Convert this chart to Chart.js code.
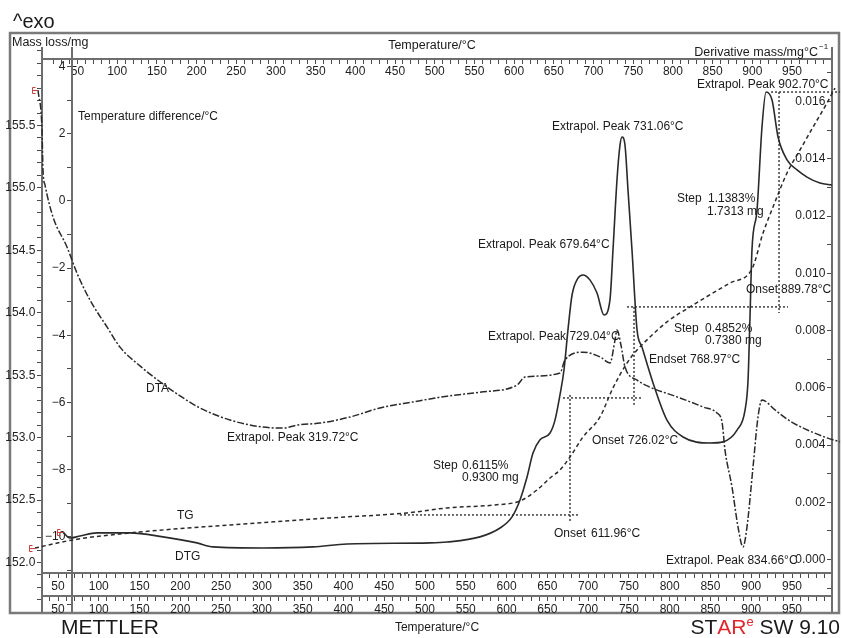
<!DOCTYPE html>
<html>
<head>
<meta charset="utf-8">
<title>TG / DTA / DTG</title>
<script src="https://cdn.jsdelivr.net/npm/chart.js@4.4.1/dist/chart.umd.min.js"></script>
<style>
  html, body { margin: 0; padding: 0; background: #ffffff; }
  canvas { display: block; }
</style>
</head>
<body>
<canvas id="thermo" width="842" height="638"></canvas>
<script>
// ---- measured curves, temperature in °C ----
const tgTemp = [21.8, 68.4, 138.3, 260.9, 383.5, 477.9, 527.0, 585.8, 616.5, 637.3, 653.3, 665.5, 677.8, 693.7, 714.6, 730.5, 747.7, 760.0, 775.9, 796.7, 824.9, 874.0, 900.9, 914.5, 926.7, 943.9, 959.8, 975.8, 992.9, 1002.7];
const tgMass = [152.116, 152.181, 152.237, 152.301, 152.357, 152.397, 152.437, 152.461, 152.493, 152.581, 152.677, 152.741, 152.845, 153.005, 153.166, 153.398, 153.598, 153.702, 153.806, 153.927, 154.047, 154.239, 154.351, 154.639, 154.847, 155.120, 155.304, 155.488, 155.680, 155.800];

const dtaTemp = [25.5, 30.4, 31.6, 34.1, 43.9, 61.0, 73.3, 89.2, 110.1, 126.0, 150.5, 175.1, 199.6, 224.1, 260.9, 301.4, 325.9, 343.1, 371.3, 408.0, 444.8, 485.3, 527.0, 567.4, 612.8, 622.6, 665.5, 671.7, 693.7, 714.6, 726.8, 733.0, 735.4, 740.3, 745.2, 760.0, 775.9, 809.0, 840.9, 858.0, 864.2, 867.8, 876.4, 883.8, 889.9, 894.8, 902.2, 908.3, 913.2, 929.2, 947.6, 972.1, 992.9, 1008.9];
const dtaDelta = [3.30, 2.11, 0.92, 0.47, -0.48, -1.37, -2.15, -2.95, -3.75, -4.35, -4.91, -5.38, -5.80, -6.16, -6.52, -6.73, -6.76, -6.67, -6.61, -6.43, -6.16, -5.98, -5.81, -5.69, -5.48, -5.24, -5.12, -4.73, -4.50, -4.64, -4.82, -4.14, -3.84, -4.29, -4.94, -5.33, -5.54, -5.83, -6.13, -6.31, -6.58, -7.41, -8.51, -9.70, -10.30, -9.70, -7.92, -6.43, -5.92, -6.22, -6.55, -6.85, -7.05, -7.17];

const dtgTemp = [56.1, 64.7, 77.0, 97.8, 138.3, 178.7, 220.4, 240.1, 301.4, 362.7, 404.4, 506.1, 527.0, 567.4, 592.0, 606.7, 616.5, 625.1, 632.4, 641.0, 653.3, 659.4, 665.5, 670.4, 675.3, 680.3, 687.6, 693.7, 702.4, 710.9, 719.5, 726.8, 730.5, 735.4, 739.1, 741.6, 745.2, 748.9, 753.8, 760.0, 766.1, 779.6, 796.7, 816.4, 849.5, 865.4, 882.6, 892.4, 896.1, 898.5, 900.9, 907.1, 913.2, 918.2, 925.5, 932.9, 943.9, 956.2, 968.4, 984.3, 999.0];
const dtgRate = [0.00096, 0.00075, 0.00082, 0.00093, 0.00093, 0.00079, 0.00058, 0.00044, 0.00040, 0.00044, 0.00054, 0.00058, 0.00061, 0.00079, 0.00110, 0.00149, 0.00208, 0.00288, 0.00372, 0.00418, 0.00442, 0.00487, 0.00575, 0.00662, 0.00802, 0.00924, 0.00983, 0.00994, 0.00976, 0.00931, 0.00854, 0.00907, 0.01081, 0.01326, 0.01448, 0.01476, 0.01448, 0.01291, 0.01081, 0.00802, 0.00742, 0.00617, 0.00487, 0.00428, 0.00407, 0.00411, 0.00452, 0.00522, 0.00627, 0.00847, 0.01081, 0.01221, 0.01511, 0.01633, 0.01605, 0.01476, 0.01396, 0.01361, 0.01336, 0.01315, 0.01308];

// evaluation construction lines: start/end temperature and mass
const guideTemp = [[469.3, 687.6], [677.8, 677.8], [669.2, 766.1], [756.3, 756.3], [747.7, 945.1], [934.1, 934.1], [924.3, 1008.9]];
const guideMass = [[152.381, 152.381], [153.342, 152.325], [153.318, 153.318], [154.047, 153.246], [154.047, 154.047], [155.768, 153.998], [155.768, 155.768]];

// labelled tick values
const tempLabels = [50, 100, 150, 200, 250, 300, 350, 400, 450, 500, 550, 600, 650, 700, 750, 800, 850, 900, 950];
const massLabels = [152.0, 152.5, 153.0, 153.5, 154.0, 154.5, 155.0, 155.5];
const deltaLabels = [4, 2, 0, -2, -4, -6, -8, -10];
const rateLabels = [0, 0.002, 0.004, 0.006, 0.008, 0.010, 0.012, 0.014, 0.016];

// evaluation results written on the plot: text, temperature, mass
const notes = [
  ['Extrapol. Peak 902.70°C', 833.5, 155.824],
  ['Extrapol. Peak 731.06°C', 655.7, 155.488],
  ['Extrapol. Peak 679.64°C', 565.0, 154.543],
  ['Extrapol. Peak 729.04°C', 577.3, 153.806],
  ['Step', 805.3, 153.870], ['0.4852%', 843.3, 153.870], ['0.7380 mg', 843.3, 153.774],
  ['Endset', 774.7, 153.622], ['768.97°C', 824.9, 153.622],
  ['Onset', 704.8, 152.973], ['726.02°C', 748.9, 152.973],
  ['Step', 509.8, 152.773], ['0.6115%', 545.4, 152.773], ['0.9300 mg', 545.4, 152.677],
  ['Onset', 658.2, 152.228], ['611.96°C', 703.5, 152.228],
  ['Extrapol. Peak 319.72°C', 257.2, 152.997],
  ['Extrapol. Peak 834.66°C', 795.5, 152.012],
  ['Step', 809.0, 154.911], ['1.1383%', 847.0, 154.911], ['1.7313 mg', 845.8, 154.807],
  ['Onset', 893.6, 154.183], ['889.78°C', 936.5, 154.183],
  ['TG', 195.9, 152.373], ['DTG', 193.5, 152.044], ['DTA', 157.9, 153.390],
  ['Temperature difference/°C', 74.5, 155.568]
];

const FONT = '"Liberation Sans", Arial, Helvetica, sans-serif';
Chart.defaults.font.family = FONT;
Chart.defaults.font.size = 12;
Chart.defaults.color = '#1e1e1e';

function steps(a, b, step) {
  const out = [];
  const n = Math.round((b - a) / step);
  for (let i = 0; i <= n; i++) out.push(+(a + i * step).toFixed(6));
  return out;
}
const has = (list, v) => list.some(t => Math.abs(t - v) < 1e-7);
const minus = v => (v < 0 ? '\u2212' + Math.abs(v) : String(v));

function axis(kind, tickValues, format, extra) {
  return Object.assign({
    type: 'linear',
    axis: kind,
    bounds: 'data',
    afterBuildTicks: s => { s.ticks = tickValues.map(v => ({ value: v })); },
    grid: { drawOnChartArea: false, drawTicks: true, tickLength: 4, tickColor: '#4a4a4a', tickWidth: 1 },
    border: { display: true, color: '#6e6e6e', width: 2 },
    ticks: { autoSkip: false, maxRotation: 0, minRotation: 0, padding: 2, color: '#1e1e1e', font: { size: 12 }, callback: format }
  }, extra);
}

const tempFmt = v => (has(tempLabels, v) ? String(v) : '');
const massFmt = v => (has(massLabels, v) ? v.toFixed(1) + '  ' : '');
const deltaFmt = v => (has(deltaLabels, v) ? minus(v) + '  ' : '');
const rateFmt = v => (has(rateLabels, v) ? v.toFixed(3) + '  ' : '');

const T_MIN = 30.38, T_MAX = 999.04;

const line = (xs, ys, yAxisID, dash, width) => ({
  data: xs.map((x, i) => ({ x, y: ys[i] })),
  xAxisID: 'x', yAxisID,
  showLine: true, pointRadius: 0, fill: false, clip: false,
  borderColor: '#2a2a2a', borderWidth: width, borderDash: dash,
  cubicInterpolationMode: 'monotone'
});

const datasets = [
  Object.assign(line(tgTemp, tgMass, 'yMass', [4, 3], 1.5), { label: 'TG' }),
  Object.assign(line(dtaTemp, dtaDelta, 'yDTA', [7, 2, 2, 2], 1.5), { label: 'DTA' }),
  Object.assign(line(dtgTemp, dtgRate, 'yRate', [], 1.6), { label: 'DTG' })
];
guideTemp.forEach((t, i) => {
  const g = line(t, guideMass[i], 'yMass', [2, 2], 1.5);
  g.borderColor = '#3c3c3c';
  g.cubicInterpolationMode = 'default';
  datasets.push(g);
});

const decor = {
  id: 'decor',
  beforeDraw(chart) {
    const ctx = chart.ctx;
    ctx.save();
    ctx.fillStyle = '#ffffff';
    ctx.fillRect(0, 0, chart.width, chart.height);
    ctx.strokeStyle = '#7a7a7a';
    ctx.lineWidth = 2.5;
    ctx.strokeRect(10, 33, 829, 580);
    ctx.restore();
  },
  afterDatasetsDraw(chart) {
    // small red start brackets at the first point of each curve
    const ctx = chart.ctx;
    ctx.save();
    ctx.strokeStyle = '#d2403c';
    ctx.lineWidth = 1;
    [0, 1, 2].forEach(i => {
      const p = chart.getDatasetMeta(i).data[0];
      if (!p) return;
      const x = Math.round(p.x) + 0.5, y = Math.round(p.y) + 0.5;
      ctx.beginPath();
      ctx.moveTo(x - 3, y - 3); ctx.lineTo(x - 6, y - 3); ctx.lineTo(x - 6, y + 3); ctx.lineTo(x - 3, y + 3);
      ctx.moveTo(x - 6, y); ctx.lineTo(x, y);
      ctx.stroke();
    });
    ctx.restore();
  },
  afterDraw(chart) {
    const ctx = chart.ctx;
    const sx = chart.scales.x, sm = chart.scales.yMass;
    ctx.save();
    ctx.fillStyle = '#1a1a1a';
    ctx.textBaseline = 'middle';
    ctx.textAlign = 'left';
    ctx.font = '12px ' + FONT;
    notes.forEach(([text, t, m]) => {
      ctx.fillText(text, sx.getPixelForValue(t), sm.getPixelForValue(m));
    });

    // headings and axis titles
    ctx.font = '20px ' + FONT;
    ctx.fillText('^exo', 13, 22);
    ctx.font = '12.5px ' + FONT;
    ctx.fillText('Mass loss/mg', 12, 43);
    ctx.textAlign = 'center';
    ctx.fillText('Temperature/\u00B0C', 432, 46);
    ctx.textAlign = 'right';
    ctx.fillText('Derivative mass/mg\u00B0C', 818, 53);
    ctx.textAlign = 'left';
    ctx.font = '8px ' + FONT;
    ctx.fillText('\u22121', 819, 47);

    ctx.font = '12px ' + FONT;
    ctx.textAlign = 'center';
    ctx.fillText('Temperature/\u00B0C', 437, 628);

    ctx.textAlign = 'left';
    ctx.font = '21px ' + FONT;
    ctx.fillText('METTLER', 61, 628);

    // software badge, right aligned
    const parts = [['ST', '#1a1a1a', 21, 0], ['AR', '#e3262b', 21, 0], ['e', '#e3262b', 13, -6], [' SW 9.10', '#1a1a1a', 21, 0]];
    let total = 0;
    parts.forEach(p => { ctx.font = p[2] + 'px ' + FONT; total += ctx.measureText(p[0]).width; });
    let x = 840 - total;
    parts.forEach(p => {
      ctx.font = p[2] + 'px ' + FONT;
      ctx.fillStyle = p[1];
      ctx.fillText(p[0], x, 628 + p[3]);
      x += ctx.measureText(p[0]).width;
    });
    ctx.restore();
  }
};

new Chart(document.getElementById('thermo'), {
  type: 'scatter',
  data: { datasets },
  options: {
    responsive: false,
    animation: false,
    devicePixelRatio: 1,
    events: [],
    layout: { padding: { left: 42, right: 10, top: 48, bottom: 27 } },
    plugins: { legend: { display: false }, tooltip: { enabled: false } },
    scales: {
      x: axis('x', steps(40, 990, 10), tempFmt, { min: T_MIN, max: T_MAX, position: { yMass: 151.916 } }),
      xLower: axis('x', steps(40, 990, 10), tempFmt, { min: T_MIN, max: T_MAX, position: { yMass: 151.7318 } }),
      xTop: axis('x', steps(20, 1000, 10), tempFmt, { min: 5.28, max: 1000.4, position: { yDTA: 4.238 } }),
      yMass: axis('y', steps(151.7, 156.1, 0.1), massFmt, { min: 151.6116, max: 156.1207, position: { x: T_MIN } }),
      yDTA: axis('y', steps(-12, 4, 1), deltaFmt, { min: -12.202, max: 4.5505, position: { x: 67.17 } }),
      yRate: axis('y', steps(-0.001, 0.017, 0.001), rateFmt, { min: -0.001799, max: 0.017869, position: { x: T_MAX } })
    }
  },
  plugins: [decor]
});
</script>
</body>
</html>
